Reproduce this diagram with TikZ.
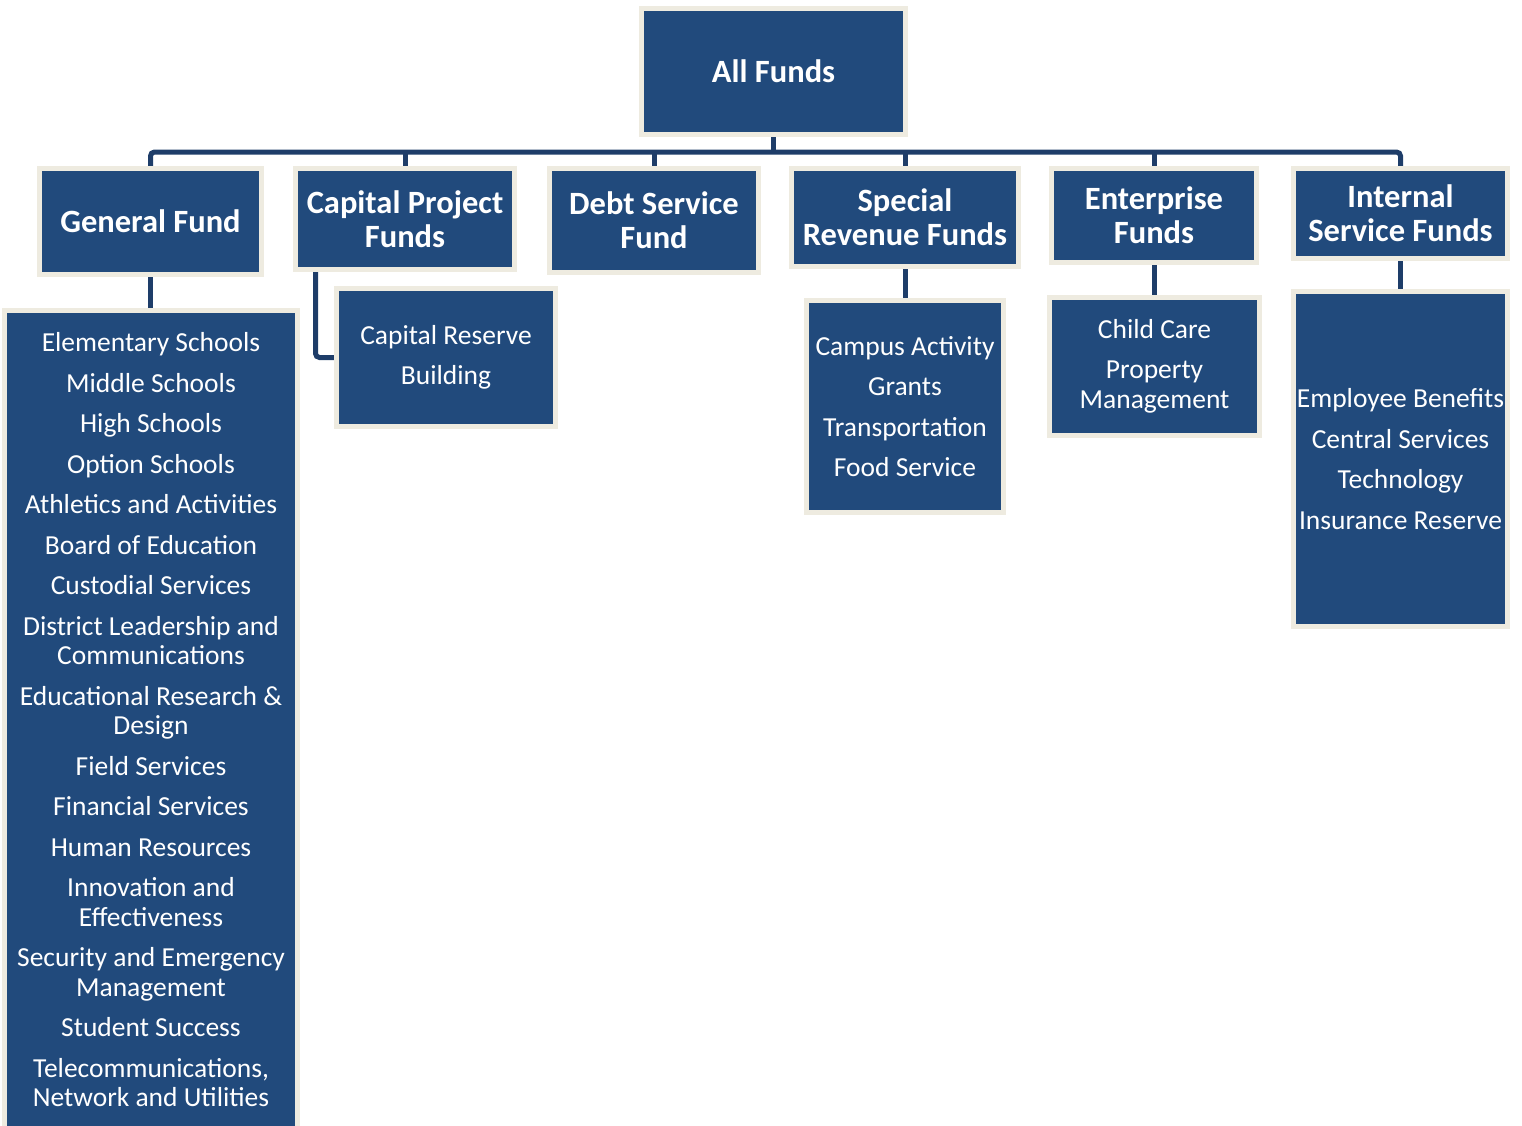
\documentclass[tikz,border=0pt]{standalone}
\usepackage{fontspec}
\setmainfont{Carlito}
\usetikzlibrary{backgrounds}
\definecolor{boxblue}{HTML}{214A7C}
\definecolor{cream}{HTML}{EEEBE0}
\definecolor{navy}{HTML}{1E3D69}
\begin{document}
\begin{tikzpicture}[x=1pt,y=-1pt,
  fundbox/.style={rectangle, fill=boxblue, draw=cream, line width=5pt, text=white, inner sep=0pt, align=center},
  head/.style={fundbox, font=\fontsize{32.5}{34}\selectfont\bfseries},
  sub/.style={fundbox, font=\fontsize{27.5}{29.5}\selectfont},
  link/.style={draw=navy, line width=5pt}]
\useasboundingbox (0,0) rectangle (1522,1125);

% top
\node[head, minimum width=264pt, minimum height=126pt] (allf) at (773.5,71.5) {All Funds};

% second row
\node[head, minimum width=222pt, minimum height=106pt] (gf) at (150.5,221.5) {General Fund};
\node[head, minimum width=219pt, minimum height=101pt] (cp) at (405,219) {Capital Project\\Funds};
\node[head, minimum width=209pt, minimum height=104pt] (ds) at (654,220.5) {Debt Service\\Fund};
\node[head, minimum width=227pt, minimum height=98pt] (sr) at (905,217.5) {Special\\Revenue Funds};
\node[head, minimum width=205pt, minimum height=94pt] (ef) at (1154,215.5) {Enterprise\\Funds};
\node[head, minimum width=214pt, minimum height=90pt] (is) at (1400.5,213.5) {Internal\\Service Funds};

% third row
\node[sub, minimum width=293pt, minimum height=820pt] (gl) at (151,720) {Elementary Schools\\[11pt]Middle Schools\\[11pt]High Schools\\[11pt]Option Schools\\[11pt]Athletics and Activities\\[11pt]Board of Education\\[11pt]Custodial Services\\[11pt]District Leadership and\\Communications\\[11pt]Educational Research \&\\Design\\[11pt]Field Services\\[11pt]Financial Services\\[11pt]Human Resources\\[11pt]Innovation and\\Effectiveness\\[11pt]Security and Emergency\\Management\\[11pt]Student Success\\[11pt]Telecommunications,\\Network and Utilities};
\node[sub, minimum width=219pt, minimum height=138pt] (cr) at (446,357.5) {Capital Reserve\\[11pt]Building};
\node[sub, minimum width=197pt, minimum height=212pt] (sl) at (905,406.5) {Campus Activity\\[11pt]Grants\\[11pt]Transportation\\[11pt]Food Service};
\node[sub, minimum width=210pt, minimum height=138pt] (el) at (1154.5,366) {Child Care\\[11pt]Property\\Management};
\node[sub, minimum width=214pt, minimum height=335pt] (il) at (1400.5,459) {Employee Benefits\\[11pt]Central Services\\[11pt]Technology\\[11pt]Insurance Reserve};

\coordinate (bar) at (773.5,152);

\begin{scope}[on background layer]
  \draw[link] (allf.south) -- (bar);
  \draw[link, rounded corners=4pt] (gf.north) |- (bar) -| (is.north);
  \draw[link] (cp.north) -- (cp.north |- bar);
  \draw[link] (ds.north) -- (ds.north |- bar);
  \draw[link] (sr.north) -- (sr.north |- bar);
  \draw[link] (ef.north) -- (ef.north |- bar);
  \draw[link] (gf.south) -- (gf.south |- gl.north);
  \draw[link, rounded corners=4pt] ([xshift=22.5pt]cp.south west) |- (cr.west);
  \draw[link] (sr.south) -- (sr.south |- sl.north);
  \draw[link] (ef.south) -- (ef.south |- el.north);
  \draw[link] (is.south) -- (is.south |- il.north);
\end{scope}
\end{tikzpicture}
\end{document}
